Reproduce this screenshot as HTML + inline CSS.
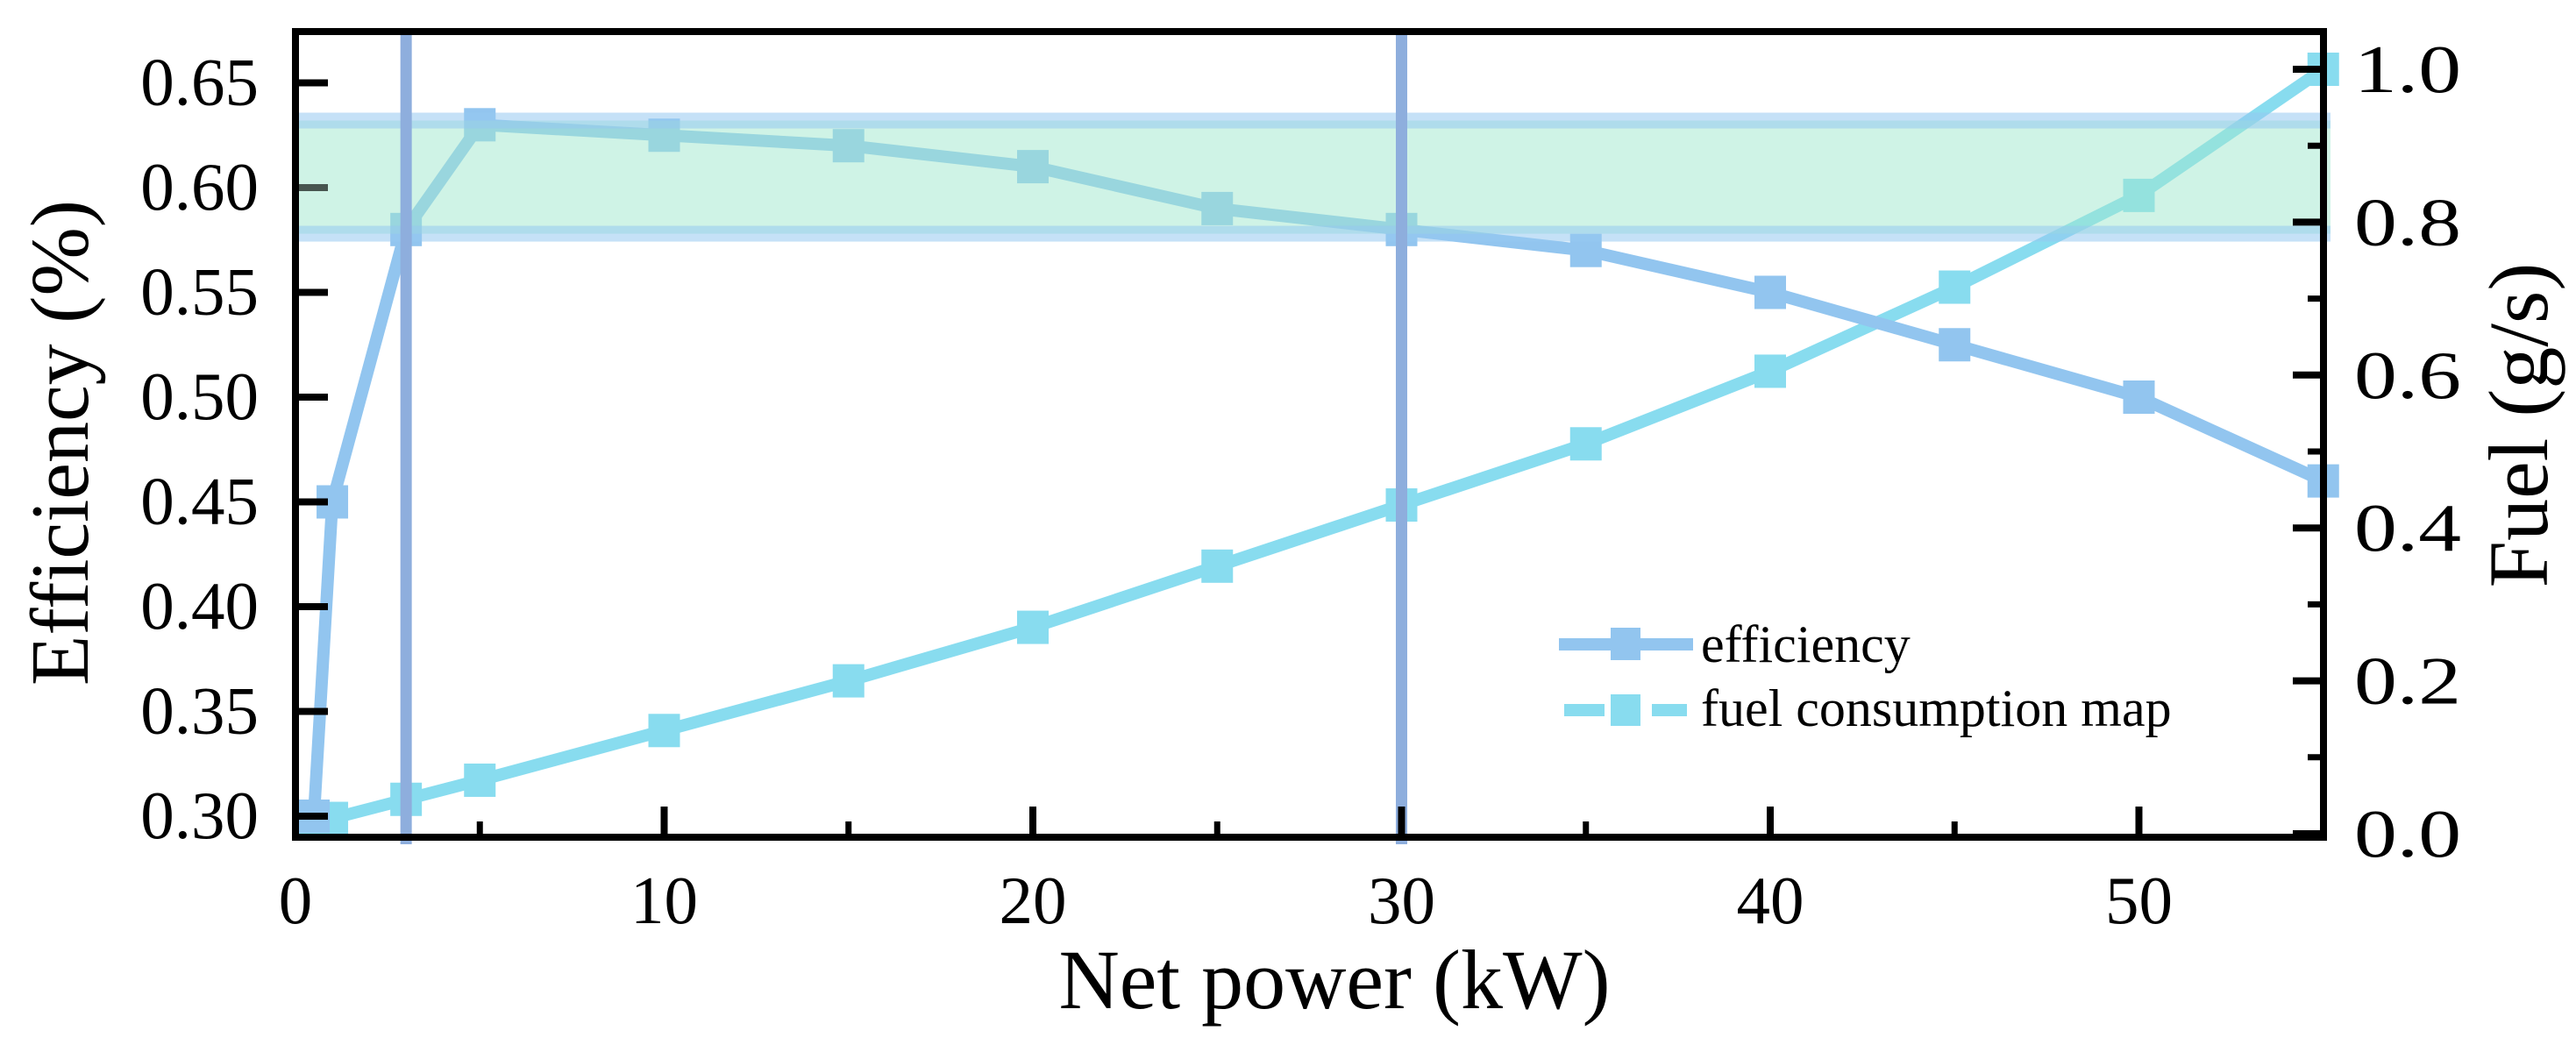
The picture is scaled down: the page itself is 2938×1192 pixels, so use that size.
<!DOCTYPE html>
<html><head><meta charset="utf-8"><style>
html,body{margin:0;padding:0;background:#fff}
svg{display:block;font-family:"Liberation Serif",serif}
</style></head><body>
<svg id="chart" width="2938" height="1192" viewBox="0 0 2938 1192" xmlns="http://www.w3.org/2000/svg">
<g id="marks"></g>
</svg>
<script>
const effX = [0.5, 1, 3, 5, 10, 15, 20, 25, 30, 35, 40, 45, 50, 55];
const effY = [0.30, 0.45, 0.58, 0.63, 0.625, 0.62, 0.61, 0.59, 0.58, 0.57, 0.55, 0.525, 0.50, 0.46];
const fuelX = [0.5, 1, 3, 5, 10, 15, 20, 25, 30, 35, 40, 45, 50, 55];
const fuelY = [0.015, 0.02, 0.045, 0.07, 0.135, 0.20, 0.27, 0.35, 0.43, 0.51, 0.605, 0.715, 0.835, 1.0];
const xTicks = [0, 10, 20, 30, 40, 50];
const xMinor = [5, 15, 25, 35, 45, 55];
const yLeftTicks = [0.30, 0.35, 0.40, 0.45, 0.50, 0.55, 0.60, 0.65];
const yRightTicks = [0.0, 0.2, 0.4, 0.6, 0.8, 1.0];
const yRightMinor = [0.1, 0.3, 0.5, 0.7, 0.9];
const vLines = [3, 30];
const band = [0.578, 0.632];

const NS = "http://www.w3.org/2000/svg";
const L = 337, R = 2650, T = 36, B = 955;
const xs = v => L + v * 42.05;
const yl = v => 931 - (v - 0.30) / 0.05 * 119.5;
const yr = v => 951 - v * 872;
const svg = document.getElementById('marks');
function mk(tag, attrs, parent) {
  const e = document.createElementNS(NS, tag);
  for (const k in attrs) e.setAttribute(k, attrs[k]);
  (parent || svg).appendChild(e);
  return e;
}
function txt(s, attrs) { const t = mk('text', attrs); t.textContent = s; return t; }

function series(xsArr, ysArr, yfn, color, name) {
  const g = mk('g', {});
  
  
  const pts = xsArr.map((x, i) => xs(x) + ',' + yfn(ysArr[i])).join(' ');
  const pl = mk('polyline', {points: pts, fill: 'none', stroke: color, 'stroke-width': 14, 'stroke-linejoin': 'miter'}, g);
  
  
  xsArr.forEach((x, i) => {
    const r = mk('rect', {x: xs(x) - 18, y: yfn(ysArr[i]) - 19, width: 36, height: 38, fill: color}, g);
    
    
  });
}
series(fuelX, fuelY, yr, '#88dcef', 'fuel');
series(effX, effY, yl, '#92c5ef', 'efficiency');

const by1 = yl(band[1]), by0 = yl(band[0]);
const bandRect = mk('rect', {x: 333, y: by1, width: 2325, height: by0 - by1, fill: 'rgba(159,231,205,0.5)'});


[by1, by0].forEach(y => {
  const s = mk('rect', {x: 333, y: y - 9, width: 2325, height: 18, fill: 'rgba(150,200,240,0.55)'});
  
  
});

vLines.forEach(v => {
  const l = mk('line', {x1: xs(v), x2: xs(v), y1: T, y2: B + 8, stroke: '#8eaedd', 'stroke-width': 13});
  
  
});

const fr = mk('rect', {x: L, y: T, width: R - L, height: B - T, fill: 'none', stroke: '#000', 'stroke-width': 8});



yLeftTicks.forEach(v => {
  const t = mk('line', {x1: L, x2: L + 37, y1: yl(v), y2: yl(v), stroke: v === 0.60 ? 'rgba(0,0,0,0.65)' : '#000', 'stroke-width': 8});
  
  
  const lb = txt(v.toFixed(2), {x: 295, y: yl(v) + 25, 'font-size': 77, 'text-anchor': 'end'});
  
  
});
xTicks.forEach(v => {
  const t = mk('line', {x1: xs(v), x2: xs(v), y1: B, y2: B - 35, stroke: '#000', 'stroke-width': 8});
  
  
  const lb = txt(String(v), {x: xs(v), y: 1053, 'font-size': 77, 'text-anchor': 'middle'});
  
  
});
xMinor.forEach(v => {
  const t = mk('line', {x1: xs(v), x2: xs(v), y1: B, y2: B - 18, stroke: '#000', 'stroke-width': 7});
  
  
});
yRightTicks.forEach(v => {
  const t = mk('line', {x1: R, x2: R - 35, y1: yr(v), y2: yr(v), stroke: '#000', 'stroke-width': 8});
  
  
  const lb = txt(v.toFixed(1), {x: 2685, y: yr(v) + 26, 'font-size': 77, textLength: 122, lengthAdjust: 'spacingAndGlyphs'});
  
  
});
yRightMinor.forEach(v => {
  const t = mk('line', {x1: R, x2: R - 18, y1: yr(v), y2: yr(v), stroke: '#000', 'stroke-width': 7});
  
  
});

const xt = txt('Net power (kW)', {x: 1522, y: 1150, 'font-size': 96, 'text-anchor': 'middle'});


const ylt = txt('Efficiency (%)', {x: 0, y: 0, 'font-size': 94, 'text-anchor': 'middle', transform: 'translate(100,505) rotate(-90)'});


const yrt = txt('Fuel (g/s)', {x: 0, y: 0, 'font-size': 96, 'text-anchor': 'middle', transform: 'translate(2905,485) rotate(-90)'});



const lg = mk('g', {});


const l1 = mk('line', {x1: 1778, x2: 1931, y1: 735, y2: 735, stroke: '#92c5ef', 'stroke-width': 14}, lg);


const m1 = mk('rect', {x: 1837, y: 716, width: 34, height: 37, fill: '#92c5ef'}, lg);


const t1 = mk('text', {x: 1940, y: 755, 'font-size': 60}, lg); t1.textContent = 'efficiency';


const l2 = mk('line', {x1: 1784, x2: 1924, y1: 810, y2: 810, stroke: '#88dcef', 'stroke-width': 14, 'stroke-dasharray': '46 7 34 13 46'}, lg);


const m2 = mk('rect', {x: 1837, y: 792, width: 34, height: 36, fill: '#88dcef'}, lg);


const t2 = mk('text', {x: 1940, y: 828, 'font-size': 60}, lg); t2.textContent = 'fuel consumption map';


</script>
</body></html>
